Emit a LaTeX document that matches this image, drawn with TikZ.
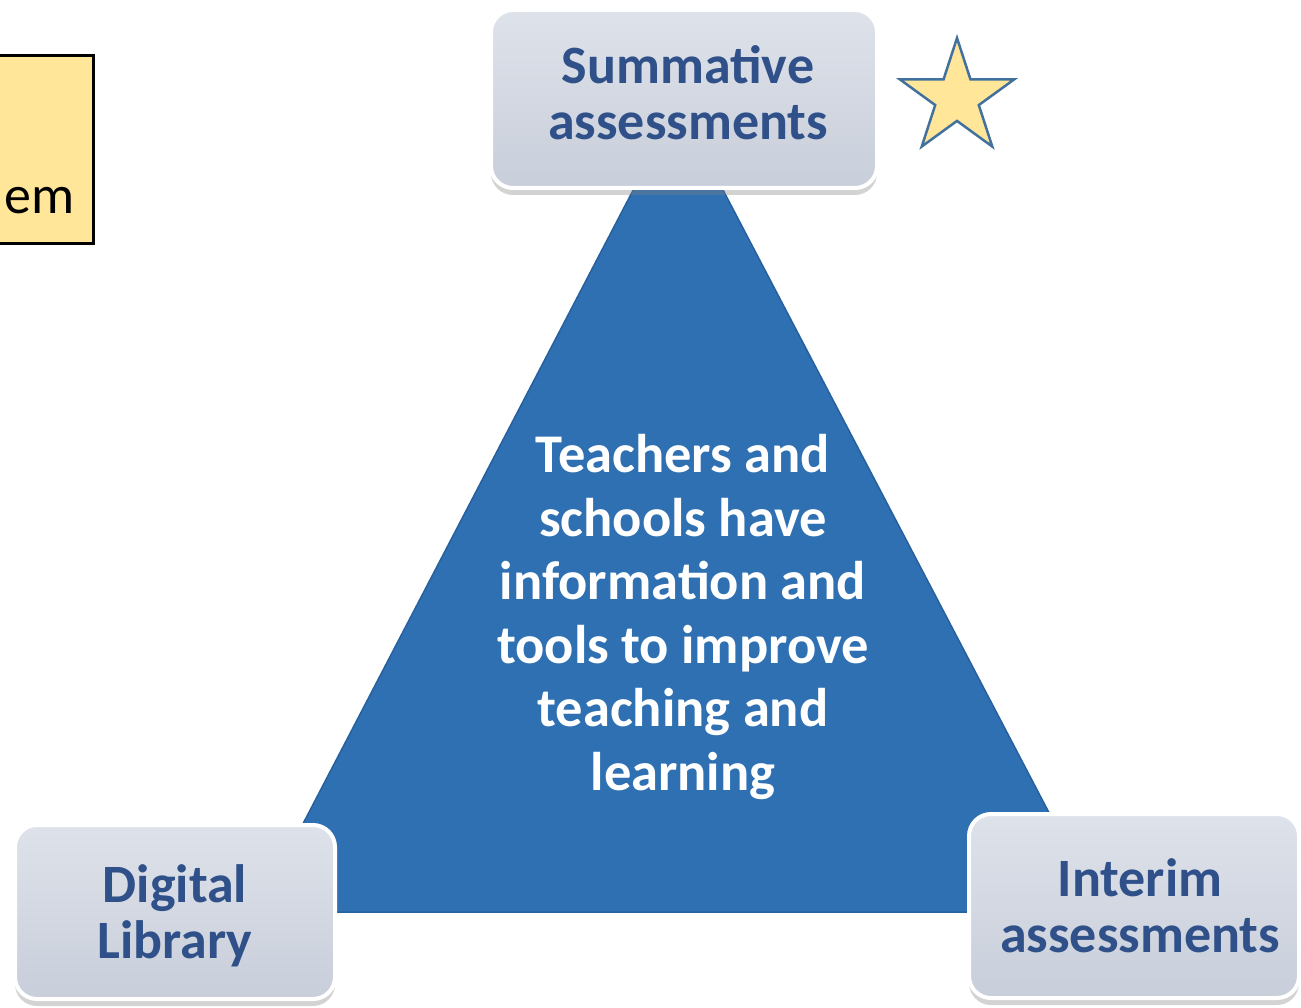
\documentclass[tikz,border=0pt]{standalone}
\usepackage{fontspec}
\setmainfont{Carlito}
\usetikzlibrary{shapes.geometric,shadows}

\definecolor{tri}{RGB}{46,112,178}
\definecolor{triedge}{RGB}{38,96,158}
\definecolor{boxtop}{RGB}{222,226,234}
\definecolor{boxbot}{RGB}{200,206,218}
\definecolor{boxtext}{RGB}{47,80,137}
\definecolor{note}{RGB}{255,230,153}
\definecolor{staredge}{RGB}{65,113,156}

\tikzset{
  corner/.style={
    draw=white, line width=4pt, rounded corners=22pt,
    top color=boxtop, bottom color=boxbot,
    drop shadow={shadow xshift=0pt, shadow yshift=-7pt, opacity=.35, fill=gray},
    inner sep=0pt},
  cornertext/.style={
    text=boxtext, align=center, inner sep=0pt,
    font=\bfseries\fontsize{54}{56}\selectfont},
  notebox/.style={draw=black, line width=3pt, fill=note},
}

\begin{document}
\begin{tikzpicture}[x=1pt, y=-1pt]
  \useasboundingbox (0,0) rectangle (1301,1008);
  \clip (0,0) rectangle (1301,1008);

  % yellow note box, running off the left edge
  \draw[notebox] (-40,56) rectangle (93,244);
  \node[anchor=base west, inner sep=0pt, font=\fontsize{54}{56}\selectfont] (notetext) at (4,214) {em};

  % central triangle
  \coordinate (apex) at (678,104);
  \coordinate (bl) at (257,912);
  \coordinate (br) at (1101,912);
  \fill[tri, draw=triedge, line width=1.5pt] (apex) -- (bl) -- (br) -- cycle;

  \node[text=white, align=center, inner sep=0pt,
        font=\bfseries\fontsize{54.5}{63.5}\selectfont] (centre) at (683,617)
    {Teachers and\\schools have\\information and\\tools to improve\\teaching and\\learning};

  % corner boxes
  \node[corner, minimum width=386pt, minimum height=178pt] (summ) at (684,99) {};
  \node[cornertext] (summtext) at (688,93) {Summative\\assessments};

  \node[corner, minimum width=320pt, minimum height=174pt] (lib) at (175,912) {};
  \node[cornertext] (libtext) at (175,916) {Digital\\Library};

  \node[corner, minimum width=330pt, minimum height=184pt] (interim) at (1134,906) {};
  \node[cornertext] (interimtext) at (1140,906) {Interim\\assessments};

  % star beside the top box
  \node[star, star points=5, star point ratio=2.618, minimum size=120pt, inner sep=0pt,
        fill=note, draw=staredge, line width=2.5pt] (mark) at (957,98) {};
\end{tikzpicture}
\end{document}
